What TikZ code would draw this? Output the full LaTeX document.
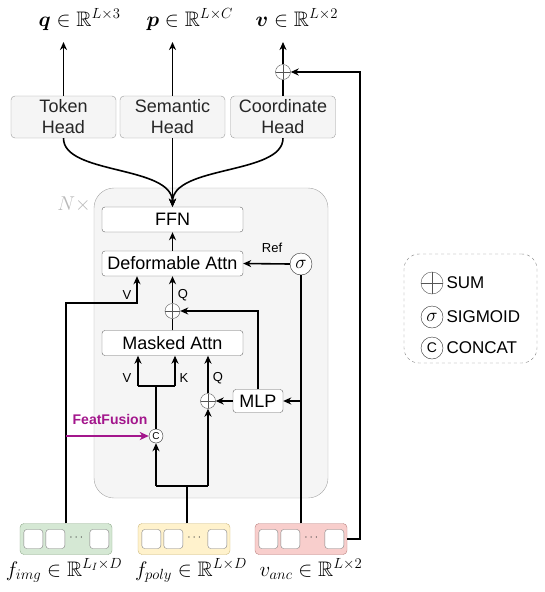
\RequirePackage{fix-cm}
\documentclass[tikz,border=0pt]{standalone}
\usepackage[no-math]{fontspec}
\setmainfont{Liberation Sans}
\usepackage{amsmath,amssymb,bm}
\usetikzlibrary{arrows.meta}
\definecolor{headfill}{HTML}{F5F5F5}
\definecolor{headdraw}{HTML}{999999}
\definecolor{contfill}{HTML}{F5F5F5}
\definecolor{contdraw}{HTML}{A6A6A6}
\definecolor{blkdraw}{HTML}{666666}
\definecolor{sumdraw}{HTML}{555555}
\definecolor{ffmag}{HTML}{A3168C}
\definecolor{imgfill}{HTML}{D5E8D4}
\definecolor{imgdraw}{HTML}{8FAA8B}
\definecolor{polyfill}{HTML}{FFF2CC}
\definecolor{polydraw}{HTML}{CDB87A}
\definecolor{ancfill}{HTML}{F8CECC}
\definecolor{ancdraw}{HTML}{B9817F}
\begin{document}
\begin{tikzpicture}[x=1pt,y=-1pt,
  conn/.style={line width=1.6pt},
  arr/.style={conn,-{Stealth[length=8pt,width=7pt,inset=2.5pt]}},
  headbox/.style={draw=headdraw,fill=headfill,rounded corners=4pt,minimum width=105pt,minimum height=42pt,align=center,inner sep=0pt,font=\fontsize{18}{21}\selectfont,text=black!85},
  blk/.style={draw=blkdraw,fill=white,rounded corners=3pt,minimum width=141pt,minimum height=25pt,inner sep=0pt,font=\fontsize{18}{21}\selectfont},
  sumc/.style={circle,draw=sumdraw,fill=white,minimum size=15pt,inner sep=0pt,
    path picture={\draw[sumdraw] (path picture bounding box.north) -- (path picture bounding box.south) (path picture bounding box.west) -- (path picture bounding box.east);}},
  opc/.style={circle,draw=black!80,fill=white,inner sep=0pt},
  lbl/.style={font=\fontsize{13}{15}\selectfont},
  mathlbl/.style={font=\fontsize{21}{24}\selectfont},
  legtxt/.style={anchor=west,font=\fontsize{17}{19}\selectfont},
  vecbox/.style={rounded corners=4pt,minimum width=92pt,minimum height=31pt,inner sep=0pt},
  sq/.style={draw=gray,fill=white,rounded corners=3pt,minimum size=19pt,inner sep=0pt},
  dots/.style={font=\fontsize{12}{14}\selectfont,inner sep=0pt,text=black!75}
]
\useasboundingbox (0,0) rectangle (544,592);

% container
\node[draw=contdraw,fill=contfill,rounded corners=20pt,minimum width=234pt,minimum height=310pt] (cont) at (211,343) {};
\node[text=gray!55,font=\fontsize{20}{24}\selectfont] (nx) at (74,204) {$N\times$};

% heads
\node[headbox] (th) at (63.5,117) {Token\\Head};
\node[headbox] (sh) at (172.5,117) {Semantic\\Head};
\node[headbox] (ch) at (283,117) {Coordinate\\Head};

% outputs
\node[mathlbl,anchor=base west] (lq) at (35,26) {$\bm{q}\in\mathbb{R}^{L\times 3}$};
\node[mathlbl,anchor=base west] (lp) at (143,26) {$\bm{p}\in\mathbb{R}^{L\times C}$};
\node[mathlbl,anchor=base west] (lv) at (252,26) {$\bm{v}\in\mathbb{R}^{L\times 2}$};
\coordinate (tq) at (63.5,42);
\coordinate (tp) at (172.5,42);
\coordinate (tv) at (283,42);
\draw[arr] (th.north) -- (tq);
\draw[arr] (sh.north) -- (tp);
\node[sumc] (s0) at (283,72) {};
\draw[conn] (ch.north) -- (s0.south);
\draw[arr] (s0.north) -- (tv);

% blocks
\node[blk] (ffn) at (172.5,219.5) {FFN};
\node[blk] (deform) at (172.5,263.5) {Deformable Attn};
\node[blk] (masked) at (172.5,343) {Masked Attn};
\node[blk,minimum width=50pt,minimum height=23pt] (mlp) at (258,401) {MLP};
\node[sumc] (s1) at (172.5,311) {};
\node[sumc] (s2) at (208,401) {};
\node[opc,minimum size=22pt,font=\fontsize{19}{21}\selectfont] (sig) at (301,264) {$\sigma$};
\node[opc,minimum size=14pt,font=\fontsize{10}{12}\selectfont] (cc) at (156,436) {C};

% heads <- FFN
\draw[arr] (th.south) .. controls (63.5,175) and (172.5,165) .. (ffn.north);
\draw[arr] (sh.south) -- (ffn.north);
\draw[arr] (ch.south) .. controls (283,175) and (172.5,165) .. (ffn.north);
\draw[arr] (deform.north) -- (ffn.south);

% vectors
\node[vecbox,draw=imgdraw,fill=imgfill] (fimg) at (66,539) {};
\node[vecbox,draw=polydraw,fill=polyfill] (fpoly) at (184,539) {};
\node[vecbox,draw=ancdraw,fill=ancfill] (vanc) at (301,539) {};
\foreach \b in {fimg,fpoly,vanc}{
  \node[sq] (\b1) at ([xshift=13.5pt]\b.west) {};
  \node[sq] (\b2) at ([xshift=35.5pt]\b.west) {};
  \node[dots] (\b d) at ([xshift=57.5pt,yshift=1pt]\b.west) {$\cdots$};
  \node[sq] (\b3) at ([xshift=79.5pt]\b.west) {};
}
\node[mathlbl,anchor=base] (lfi) at (64,576) {$f_{img}\in\mathbb{R}^{L_I\times D}$};
\node[mathlbl,anchor=base] (lfp) at (191,576) {$f_{poly}\in\mathbb{R}^{L\times D}$};
\node[mathlbl,anchor=base] (lva) at (311,576) {$v_{anc}\in\mathbb{R}^{L\times 2}$};

% f_img -> V of deformable
\coordinate (vdef) at (137,303);
\draw[arr] (fimg.north) |- (vdef) -- (vdef |- deform.south);
\node[lbl] (lv1) at (127,295) {V};
\node[lbl] (lq1) at (183,295) {Q};
\draw[conn] (masked.north) -- (s1.south);
\draw[arr] (s1.north) -- (deform.south);
\draw[arr] (mlp.north) |- (s1.east);

% sigma / Ref
\draw[arr] (sig.west) -- (deform.east);
\node[lbl] (lref) at (272,248) {Ref};
\draw[conn] (vanc.north) -- (sig.south);
\draw[arr] (vanc.north |- mlp.east) -- (mlp.east);
\draw[arr] (mlp.west) -- (s2.east);

% masked attn inputs
\coordinate (vkL) at (138,386);
\coordinate (vkR) at (175,386);
\draw[conn] (cc.north) -- (cc |- vkL);
\draw[conn] (vkL) -- (vkR);
\draw[arr] (vkL) -- (vkL |- masked.south);
\draw[arr] (vkR) -- (vkR |- masked.south);
\draw[arr] (s2.north) -- (s2.north |- masked.south);
\node[lbl] (lv2) at (127,378) {V};
\node[lbl] (lk2) at (184,378) {K};
\node[lbl] (lq2) at (218,378) {Q};

% f_poly
\coordinate (fp) at (187,486);
\draw[conn] (fpoly.north -| fp) -- (fp);
\draw[conn] (cc |- fp) -- (s2 |- fp);
\draw[arr] (cc |- fp) -- (cc.south);
\draw[arr] (s2 |- fp) -- (s2.south);

% FeatFusion
\coordinate (ff) at (66,436);
\draw[line width=2.2pt,ffmag,-{Stealth[length=9pt,width=8pt,inset=2.5pt]}] (ff) -- (cc.west);
\node[text=ffmag,font=\bfseries\fontsize{14}{16}\selectfont] (lff) at (110,419) {FeatFusion};

% right loop
\coordinate (rl) at (360,539);
\draw[arr] (vanc.east) -- (rl) |- (s0.east);

% legend
\node[draw=gray,dashed,rounded corners=15pt,minimum width=133pt,minimum height=109pt] (leg) at (470.5,308.5) {};
\node[sumc,minimum size=22pt] (ls) at (432,283) {};
\node[legtxt] (lsum) at (443,283) {SUM};
\node[opc,minimum size=22pt,font=\fontsize{19}{21}\selectfont] (lsig) at (432,317) {$\sigma$};
\node[legtxt] (lsigt) at (443,317) {SIGMOID};
\node[opc,minimum size=22pt,font=\fontsize{14}{16}\selectfont] (lc) at (432,348) {C};
\node[legtxt] (lct) at (443,348) {CONCAT};
\end{tikzpicture}
\end{document}
